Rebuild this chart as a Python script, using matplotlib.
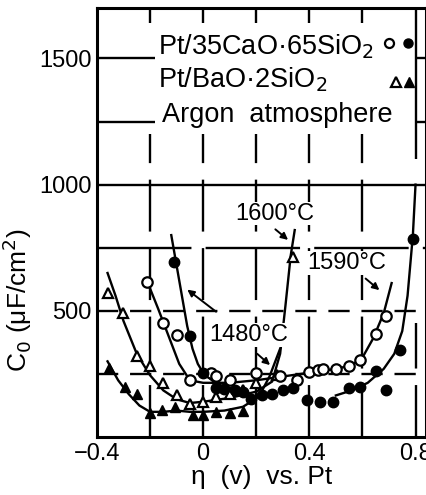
import numpy as np
import matplotlib
matplotlib.use('Agg')
import matplotlib.pyplot as plt

plt.rcParams['font.family'] = ['Liberation Sans', 'DejaVu Sans']
plt.rcParams['mathtext.fontset'] = 'dejavusans'

otri_x = [-0.36, -0.30, -0.25, -0.20, -0.15, -0.10, -0.05, 0.0, 0.05, 0.10, 0.15, 0.20, 0.28, 0.34]
otri_y = [570, 490, 320, 280, 215, 165, 130, 140, 160, 170, 185, 214, 246, 715]

ftri_x = [-0.355, -0.294, -0.25, -0.20, -0.155, -0.106, -0.04, 0.0, 0.05, 0.10, 0.15]
ftri_y = [274, 198, 171, 95, 107, 119, 87, 87, 100, 95, 105]

ocirc_x = [-0.21, -0.15, -0.10, -0.05, 0.03, 0.05, 0.10, 0.20, 0.29, 0.355, 0.40, 0.434, 0.45, 0.50, 0.55, 0.59, 0.65, 0.69]
ocirc_y = [615, 450, 405, 225, 254, 240, 226, 254, 240, 226, 258, 266, 270, 270, 280, 305, 410, 480]

fcirc_x = [-0.11, -0.05, 0.0, 0.05, 0.08, 0.12, 0.15, 0.18, 0.22, 0.26, 0.30, 0.34,
           0.39, 0.44, 0.49, 0.55, 0.59, 0.65, 0.69, 0.74, 0.79]
fcirc_y = [695, 400, 255, 195, 190, 185, 180, 150, 165, 170, 185, 195,
           145, 140, 140, 195, 200, 260, 185, 345, 785]

# Curvas trazadas a mano
c_otri_x = [-0.36, -0.33, -0.30, -0.25, -0.20, -0.15, -0.10, -0.05, 0.0, 0.10, 0.20, 0.26, 0.29, 0.31, 0.33, 0.345]
c_otri_y = [650, 560, 460, 330, 245, 185, 150, 135, 140, 155, 180, 220, 330, 520, 720, 820]

c_ftri_x = [-0.36, -0.32, -0.28, -0.24, -0.20, -0.15, -0.10, -0.05, 0.0, 0.08, 0.15, 0.21, 0.25, 0.29]
c_ftri_y = [300, 225, 170, 125, 100, 100, 105, 100, 100, 105, 120, 160, 240, 350]

c_ocirc_x = [-0.21, -0.17, -0.13, -0.09, -0.05, 0.0, 0.1, 0.2, 0.3, 0.4, 0.5, 0.56, 0.60, 0.64, 0.68, 0.71]
c_ocirc_y = [615, 510, 400, 290, 225, 215, 215, 225, 240, 255, 270, 285, 315, 390, 490, 610]

c_fl_x = [-0.12, -0.10, -0.08, -0.06, -0.04, -0.02, 0.0, 0.05, 0.10]
c_fl_y = [800, 680, 560, 440, 350, 290, 255, 210, 195]

c_fr_x = [0.50, 0.56, 0.62, 0.68, 0.72, 0.75, 0.77, 0.79, 0.80]
c_fr_y = [165, 185, 215, 270, 330, 420, 560, 800, 1000]

xticks = [-0.4, 0, 0.4, 0.8]
xtick_labels = ['−0.4', '0', '0.4', '0.8']
yticks = [500, 1000, 1500]

fig = plt.figure(figsize=(4.27, 4.95), dpi=100)
ax = fig.add_axes([0.227, 0.117, 0.771, 0.867])
ax.set_xlim(-0.4, 0.84)
ax.set_ylim(0, 1700)

lw = 1.7
k = 'black'
# rejilla (segmentada como en el original)
for yv in [250, 500]:
    ax.axhline(yv, color=k, lw=lw, ls=(0, (9, 5)))
ax.axhline(750, color=k, lw=lw, ls=(0, (40, 6)))
ax.axhline(1000, color=k, lw=lw)
for yv in [1250, 1500]:
    ax.hlines(yv, -0.4, -0.18, color=k, lw=lw)
    ax.hlines(yv, 0.8, 0.84, color=k, lw=lw)
for xv in [-0.2, 0, 0.2, 0.4, 0.6]:
    ax.vlines(xv, 0, 1200, color=k, lw=lw, ls=(0, (22, 7)))
    ax.vlines(xv, 1640, 1700, color=k, lw=lw)
ax.vlines(0.8, 0, 450, color=k, lw=lw, ls=(0, (22, 7)))
ax.vlines(0.8, 1100, 1700, color=k, lw=lw)

# curvas
for cx, cy in [(c_otri_x, c_otri_y), (c_ftri_x, c_ftri_y), (c_ocirc_x, c_ocirc_y),
               (c_fl_x, c_fl_y), (c_fr_x, c_fr_y)]:
    ax.plot(cx, cy, color=k, lw=lw, zorder=3)

ms = 7.5
ax.plot(otri_x, otri_y, '^', ms=ms, mfc='white', mec=k, mew=1.6, ls='none', zorder=4)
ax.plot(ftri_x, ftri_y, '^', ms=ms, mfc=k, mec=k, ls='none', zorder=4)
ax.plot(ocirc_x, ocirc_y, 'o', ms=ms, mfc='white', mec=k, mew=1.6, ls='none', zorder=4)
ax.plot(fcirc_x, fcirc_y, 'o', ms=ms, mfc=k, mec=k, ls='none', zorder=4)

# leyenda escrita a mano
lfs = 19.5
ax.text(-0.17, 1515, 'Pt/35CaO·65SiO$_2$', fontsize=lfs, va='baseline', ha='left')
ax.text(-0.17, 1385, 'Pt/BaO·2SiO$_2$', fontsize=lfs, va='baseline', ha='left')
ax.text(-0.155, 1250, 'Argon  atmosphere', fontsize=lfs, va='baseline', ha='left')
ax.plot([0.70], [1563], 'o', ms=6.5, mfc='white', mec=k, mew=1.6, zorder=5)
ax.plot([0.77], [1563], 'o', ms=6.5, mfc=k, mec=k, zorder=5)
ax.plot([0.725], [1405], '^', ms=6.5, mfc='white', mec=k, mew=1.6, zorder=5)
ax.plot([0.774], [1405], '^', ms=6.5, mfc=k, mec=k, zorder=5)

# etiquetas de temperatura
fs = 17
ax.text(0.27, 885, '1600°C', fontsize=fs, ha='center', va='center',
        bbox=dict(fc='white', ec='none', pad=0.5))
ax.annotate('', xy=(0.328, 774), xytext=(0.264, 830),
            arrowprops=dict(arrowstyle='-|>', color=k, lw=1.4))
ax.text(0.54, 690, '1590°C', fontsize=fs, ha='center', va='center',
        bbox=dict(fc='white', ec='none', pad=0.5))
ax.annotate('', xy=(0.672, 575), xytext=(0.604, 635),
            arrowprops=dict(arrowstyle='-|>', color=k, lw=1.4))
ax.text(0.17, 405, '1480°C', fontsize=fs, ha='center', va='center',
        bbox=dict(fc='white', ec='none', pad=0.5))
ax.annotate('', xy=(-0.068, 591), xytext=(0.057, 490),
            arrowprops=dict(arrowstyle='-|>', color=k, lw=1.4))
ax.annotate('', xy=(0.26, 278), xytext=(0.196, 337),
            arrowprops=dict(arrowstyle='-|>', color=k, lw=1.4))

ax.set_xticks(xticks)
ax.set_xticklabels(xtick_labels)
ax.set_yticks(yticks)
ax.tick_params(length=0, labelsize=17, pad=4)
for s in ax.spines.values():
    s.set_linewidth(2.2)

ax.set_xlabel('η  (v)  vs. Pt', fontsize=19, labelpad=0)
ax.set_ylabel('C$_0$ (μF/cm$^2$)', fontsize=19, labelpad=4)
ax.yaxis.set_label_coords(-0.19, 0.32)

fig.savefig('out.png', dpi=100)
